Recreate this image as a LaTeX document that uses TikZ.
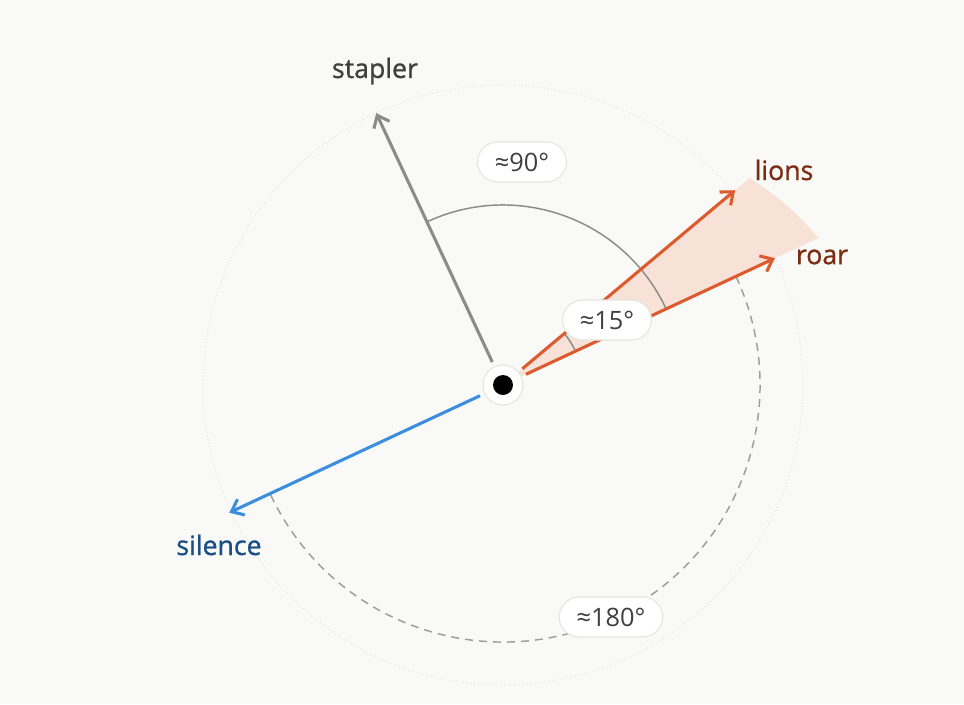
\documentclass[tikz,border=0pt]{standalone}
\usepackage{fontspec}
\setmainfont{Open Sans}
\newfontfamily\namefont{Open Sans}[FakeBold=1.0]
\usepackage{xcolor}
\usepackage{tikz}
\usetikzlibrary{arrows.meta}

\definecolor{bgcol}{HTML}{F9F9F7}
\definecolor{rust}{HTML}{DD5A2E}
\definecolor{rusttext}{HTML}{7B2D12}
\definecolor{peach}{HTML}{F8E2D8}
\definecolor{skyblue}{HTML}{3A8EDD}
\definecolor{navytext}{HTML}{1A4F86}
\definecolor{stone}{HTML}{8C8C87}
\definecolor{inktext}{HTML}{3F3F3F}
\definecolor{rimgray}{HTML}{E4E4E0}

\begin{document}
\begin{tikzpicture}[x=0.75pt,y=0.75pt,
  vec/.style={line width=2.3pt,-{Straight Barb[length=8pt,width=13pt]}},
  word/.style={font=\namefont\fontsize{20}{22}\selectfont},
  anglabel/.style={draw=rimgray,fill=white,line width=0.8pt,rounded corners=15pt,
    minimum height=30pt,inner xsep=13pt,text=inktext,font=\fontsize{19}{21}\selectfont}]
% background and frame
\fill[bgcol] (-503,-319) rectangle (461,385);
\useasboundingbox (-503,-319) rectangle (461,385);
% faint guide circle
\draw[rimgray,line width=0.8pt,dotted] (0,0) circle (300);
% shaded wedge between lions and roar
\fill[peach] (0,0) -- (40:322) to[bend left=8] (25:348) -- cycle;
% angle arcs
\draw[stone,line width=1.1pt] (25:180) arc (25:115:180);
\draw[stone,line width=1.1pt] (25:80) arc (25:40:80);
\draw[stone!85,line width=1.1pt,dash pattern=on 6pt off 4.5pt] (25:257) arc (25:-155:257);
% centre
\node[circle,draw=rimgray,fill=white,line width=0.8pt,minimum size=30pt,outer sep=4pt] (o) at (0,0) {};
\fill[black] (o.center) circle (10);
% vector tips
\coordinate (staplertip) at (115:300);
\coordinate (lionstip) at (40:303);
\coordinate (roartip) at (25:300);
\coordinate (silencetip) at (205:302);
% vectors
\draw[vec,stone] (o) -- (staplertip);
\draw[vec,rust] (o) -- (lionstip);
\draw[vec,rust] (o) -- (roartip);
\draw[vec,skyblue] (o) -- (silencetip);
% words
\node[word,text=inktext] (stapler) at (-128,314) {stapler};
\node[word,text=rusttext] (lions) at (281,215) {lions};
\node[word,text=rusttext] (roar) at (319,128) {roar};
\node[word,text=navytext] (silence) at (-284,-160) {silence};
% angle labels
\node[anglabel] (a90) at (19,223) {≈90°};
\node[anglabel] (a15) at (104,65) {≈15°};
\node[anglabel] (a180) at (108,-232) {≈180°};
\end{tikzpicture}
\end{document}
